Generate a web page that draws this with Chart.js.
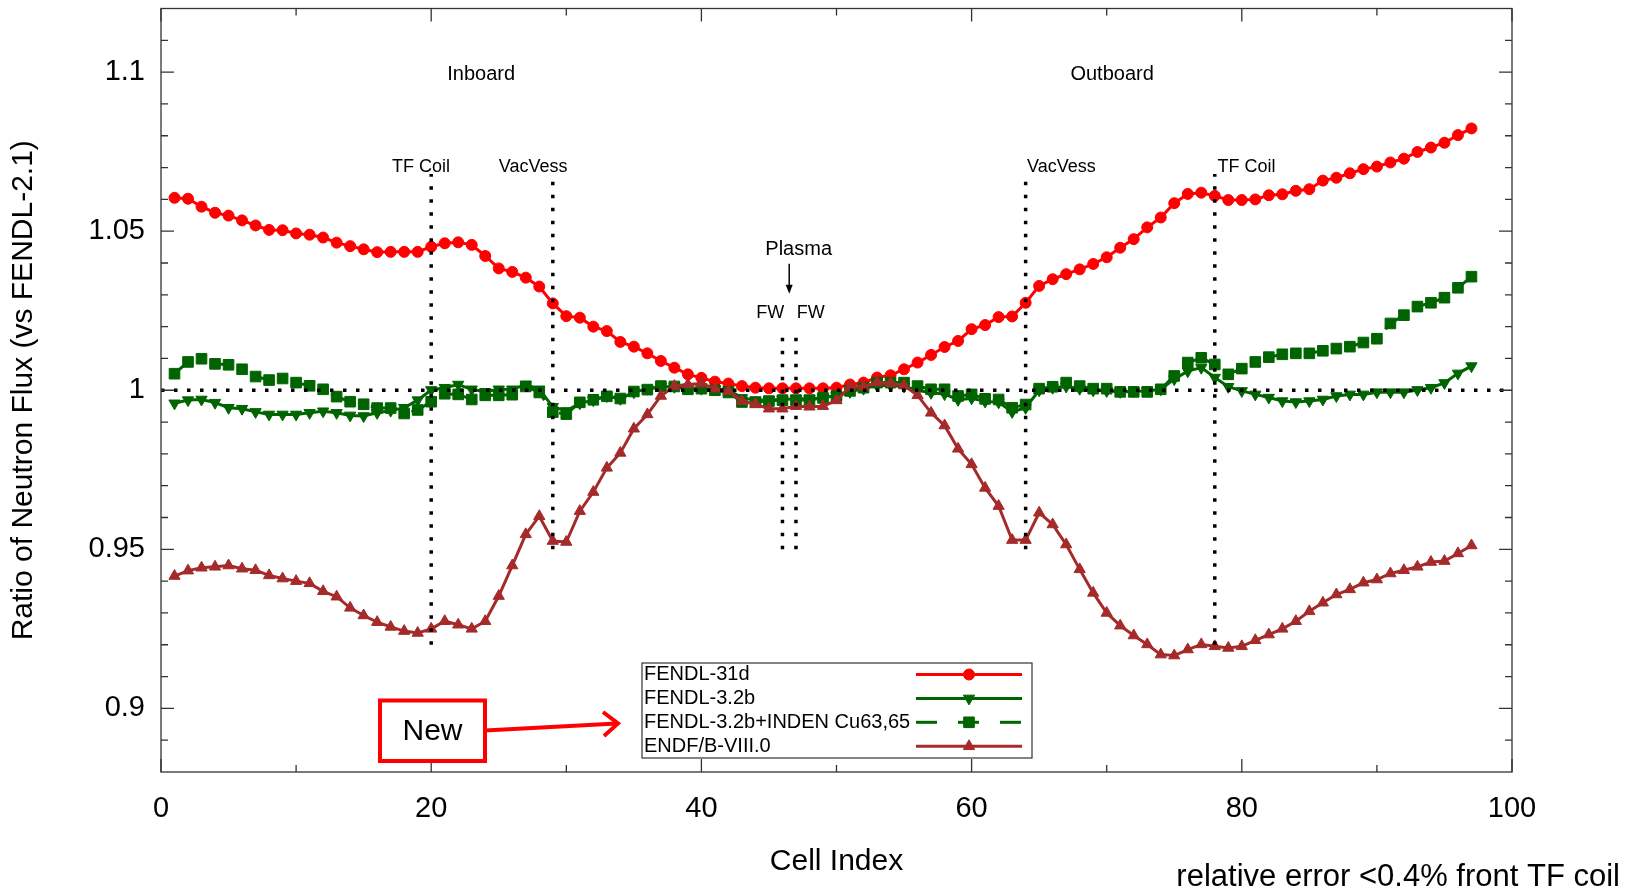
<!DOCTYPE html>
<html>
<head>
<meta charset="utf-8">
<script src="https://cdn.jsdelivr.net/npm/chart.js@4.4.0/dist/chart.umd.min.js"></script>
<style>
  html, body { margin: 0; padding: 0; background: #fff; }
  #wrap { width: 1632px; height: 892px; }
</style>
</head>
<body>
<div id="wrap"><canvas id="fluxChart" width="1632" height="892"></canvas></div>
<script>
// cell index on the x axis (1..97)
const cellIndex = Array.from({ length: 97 }, (_, i) => i + 1);

// ratio of neutron flux vs FENDL-2.1
const fendl31d = [
  1.0605, 1.0602, 1.0577, 1.0558, 1.0549, 1.0534, 1.0518, 1.0504, 1.0503, 1.0493,
  1.0489, 1.0480, 1.0464, 1.0453, 1.0443, 1.0434, 1.0435, 1.0435, 1.0435, 1.0451,
  1.0462, 1.0465, 1.0457, 1.0422, 1.0383, 1.0372, 1.0354, 1.0326, 1.0273, 1.0233,
  1.0228, 1.0200, 1.0186, 1.0152, 1.0137, 1.0116, 1.0092, 1.0071, 1.0050, 1.0039,
  1.0027, 1.0021, 1.0013, 1.0008, 1.0006, 1.0006, 1.0006, 1.0006, 1.0006, 1.0008,
  1.0018, 1.0024, 1.0040, 1.0047, 1.0066, 1.0087, 1.0111, 1.0136, 1.0155, 1.0192,
  1.0205, 1.0230, 1.0232, 1.0275, 1.0328, 1.0349, 1.0365, 1.0380, 1.0397, 1.0418,
  1.0448, 1.0475, 1.0512, 1.0543, 1.0588, 1.0617, 1.0621, 1.0611, 1.0598, 1.0598,
  1.0600, 1.0613, 1.0616, 1.0627, 1.0632, 1.0659, 1.0668, 1.0682, 1.0695, 1.0703,
  1.0716, 1.0728, 1.0749, 1.0763, 1.0778, 1.0802, 1.0823
];
const fendl32b = [
  0.9959, 0.9969, 0.9971, 0.9961, 0.9945, 0.9942, 0.9932, 0.9924, 0.9924, 0.9924,
  0.9929, 0.9934, 0.9929, 0.9921, 0.9919, 0.9929, 0.9936, 0.9945, 0.9969, 1.0001,
  1.0008, 1.0018, 1.0003, 0.9995, 1.0003, 1.0003, 1.0018, 1.0003, 0.9948, 0.9935,
  0.9959, 0.9969, 0.9982, 0.9973, 0.9994, 1.0005, 1.0011, 1.0011, 1.0008, 1.0005,
  1.0003, 1.0001, 0.9976, 0.9969, 0.9969, 0.9971, 0.9973, 0.9973, 0.9976, 0.9984,
  0.9995, 1.0005, 1.0015, 1.0015, 1.0012, 1.0000, 0.9992, 0.9988, 0.9970, 0.9975,
  0.9965, 0.9962, 0.9932, 0.9945, 1.0000, 1.0008, 1.0012, 1.0005, 1.0000, 0.9998,
  0.9995, 0.9997, 0.9998, 1.0003, 1.0035, 1.0060, 1.0071, 1.0040, 1.0011, 0.9998,
  0.9987, 0.9977, 0.9966, 0.9963, 0.9966, 0.9971, 0.9982, 0.9987, 0.9987, 0.9994,
  0.9994, 0.9994, 1.0001, 1.0008, 1.0023, 1.0053, 1.0076
];
const fendl32bInden = [
  1.0052, 1.0089, 1.0099, 1.0083, 1.0080, 1.0066, 1.0043, 1.0032, 1.0037, 1.0024,
  1.0014, 1.0003, 0.9980, 0.9964, 0.9956, 0.9944, 0.9944, 0.9927, 0.9938, 0.9964,
  0.9989, 0.9987, 0.9971, 0.9984, 0.9984, 0.9986, 1.0012, 0.9993, 0.9931, 0.9925,
  0.9962, 0.9970, 0.9981, 0.9974, 0.9996, 1.0002, 1.0013, 1.0012, 1.0003, 1.0005,
  1.0000, 0.9993, 0.9963, 0.9962, 0.9966, 0.9969, 0.9969, 0.9969, 0.9976, 0.9982,
  0.9998, 1.0008, 1.0024, 1.0024, 1.0024, 1.0013, 1.0003, 1.0003, 0.9982, 0.9987,
  0.9973, 0.9971, 0.9945, 0.9955, 1.0005, 1.0011, 1.0024, 1.0013, 1.0005, 1.0005,
  0.9995, 0.9995, 0.9995, 1.0003, 1.0045, 1.0087, 1.0102, 1.0081, 1.0050, 1.0068,
  1.0089, 1.0104, 1.0113, 1.0116, 1.0116, 1.0124, 1.0131, 1.0137, 1.0150, 1.0162,
  1.0210, 1.0236, 1.0263, 1.0275, 1.0291, 1.0322, 1.0357
];
const endfb80 = [
  0.9416, 0.9433, 0.9442, 0.9445, 0.9449, 0.9439, 0.9434, 0.9418, 0.9408, 0.9400,
  0.9393, 0.9368, 0.9351, 0.9316, 0.9292, 0.9271, 0.9256, 0.9243, 0.9237, 0.9250,
  0.9274, 0.9263, 0.9250, 0.9274, 0.9353, 0.9449, 0.9547, 0.9604, 0.9526, 0.9523,
  0.9620, 0.9680, 0.9756, 0.9803, 0.9879, 0.9924, 0.9982, 1.0013, 1.0018, 1.0021,
  1.0005, 0.9997, 0.9966, 0.9956, 0.9942, 0.9942, 0.9950, 0.9948, 0.9950, 0.9968,
  1.0011, 1.0011, 1.0024, 1.0022, 1.0015, 0.9984, 0.9929, 0.9889, 0.9816, 0.9767,
  0.9693, 0.9636, 0.9529, 0.9529, 0.9615, 0.9578, 0.9515, 0.9437, 0.9363, 0.9300,
  0.9260, 0.9229, 0.9201, 0.9169, 0.9166, 0.9185, 0.9201, 0.9195, 0.9190, 0.9195,
  0.9214, 0.9232, 0.9250, 0.9274, 0.9305, 0.9332, 0.9358, 0.9374, 0.9395, 0.9405,
  0.9424, 0.9434, 0.9445, 0.9460, 0.9463, 0.9487, 0.9512
];

// axes
const xTicks = [0, 20, 40, 60, 80, 100];
const xMinorTicks = [10, 30, 50, 70, 90];
const yTicks = [0.9, 0.95, 1, 1.05, 1.1];

// component boundaries (dotted vertical lines)
const boundaryCells = [20, 29, 64, 78];
const boundaryBottom = [0.920, 0.950, 0.950, 0.920];
const boundaryTop = 1.068;
const firstWallCells = [46, 47];
const firstWallRange = [0.950, 1.0176];

const FONT = "'Liberation Sans', Arial, sans-serif";
const RED = '#ff0000', GREEN = '#006400', BROWN = '#a52a2a';

// text annotations in data coordinates
const notes = [
  { text: 'Inboard', x: 23.7, y: 1.0993, size: 20, align: 'center' },
  { text: 'Outboard', x: 70.4, y: 1.0993, size: 20, align: 'center' },
  { text: 'TF Coil', x: 17.1, y: 1.0703, size: 18, align: 'left' },
  { text: 'VacVess', x: 25.0, y: 1.0703, size: 18, align: 'left' },
  { text: 'VacVess', x: 64.1, y: 1.0703, size: 18, align: 'left' },
  { text: 'TF Coil', x: 78.2, y: 1.0703, size: 18, align: 'left' },
  { text: 'Plasma', x: 47.2, y: 1.0443, size: 20, align: 'center' },
  { text: 'FW', x: 45.1, y: 1.0244, size: 18, align: 'center' },
  { text: 'FW', x: 48.1, y: 1.0244, size: 18, align: 'center' }
];

const legendItems = [
  { label: 'FENDL-31d', color: RED, style: 'circle', radius: 5.5, rotation: 0, dash: [] },
  { label: 'FENDL-3.2b', color: GREEN, style: 'triangle', radius: 6.5, rotation: 180, dash: [] },
  { label: 'FENDL-3.2b+INDEN Cu63,65', color: GREEN, style: 'rect', radius: 7.5, rotation: 0, dash: [21, 21] },
  { label: 'ENDF/B-VIII.0', color: BROWN, style: 'triangle', radius: 6.5, rotation: 0, dash: [] }
];

function seriesDataset(item, values, order) {
  return {
    label: item.label,
    data: values,
    borderColor: item.color,
    backgroundColor: item.color,
    borderWidth: 3,
    borderDash: item.dash,
    pointStyle: item.style,
    pointRadius: item.radius,
    pointRotation: item.rotation,
    pointBorderWidth: 1,
    tension: 0,
    order: order
  };
}

function dottedLine(points) {
  return {
    data: points,
    borderColor: '#000',
    borderWidth: 3.5,
    borderDash: [3.5, 9.5],
    borderCapStyle: 'butt',
    pointRadius: 0,
    tension: 0,
    order: 0
  };
}

const guideSets = [dottedLine([{ x: 0, y: 1 }, { x: 100, y: 1 }])];
boundaryCells.forEach((c, i) => guideSets.push(dottedLine([{ x: c, y: boundaryBottom[i] }, { x: c, y: boundaryTop }])));
firstWallCells.forEach(c => guideSets.push(dottedLine([{ x: c, y: firstWallRange[0] }, { x: c, y: firstWallRange[1] }])));

// border, inward ticks on all four sides
const framePlugin = {
  id: 'frame',
  afterDatasetsDraw(chart) {
    const { ctx, chartArea: a, scales: { x, y } } = chart;
    ctx.save();
    ctx.strokeStyle = '#333';
    ctx.lineWidth = 1.3;
    ctx.beginPath();
    const seg = (x1, y1, x2, y2) => { ctx.moveTo(x1, y1); ctx.lineTo(x2, y2); };
    xTicks.forEach(v => { const p = x.getPixelForValue(v); seg(p, a.bottom, p, a.bottom - 13); seg(p, a.top, p, a.top + 13); });
    xMinorTicks.forEach(v => { const p = x.getPixelForValue(v); seg(p, a.bottom, p, a.bottom - 7); seg(p, a.top, p, a.top + 7); });
    for (let k = 89; k <= 111; k++) {
      const v = k / 100;
      const p = y.getPixelForValue(v);
      const len = (k % 5 === 0) ? 13 : 7;
      seg(a.left, p, a.left + len, p);
      seg(a.right, p, a.right - len, p);
    }
    ctx.stroke();
    ctx.strokeRect(a.left, a.top, a.right - a.left, a.bottom - a.top);
    ctx.restore();
  },
  afterDraw(chart) {
    const { ctx, scales: { x, y } } = chart;
    const helpers = Chart.helpers;
    ctx.save();
    ctx.fillStyle = '#000';
    ctx.textBaseline = 'middle';

    notes.forEach(n => {
      ctx.font = n.size + 'px ' + FONT;
      ctx.textAlign = n.align;
      ctx.fillText(n.text, x.getPixelForValue(n.x), y.getPixelForValue(n.y));
    });

    // plasma arrow
    const ax = x.getPixelForValue(46.5);
    const ay1 = y.getPixelForValue(1.0398), ay2 = y.getPixelForValue(1.0303);
    ctx.strokeStyle = '#000';
    ctx.lineWidth = 1.5;
    ctx.beginPath(); ctx.moveTo(ax, ay1); ctx.lineTo(ax, ay2 - 6); ctx.stroke();
    ctx.beginPath(); ctx.moveTo(ax - 3.5, ay2 - 9); ctx.lineTo(ax, ay2); ctx.lineTo(ax + 3.5, ay2 - 9); ctx.closePath(); ctx.fill();

    // legend box
    ctx.lineWidth = 1.2;
    ctx.strokeStyle = '#333';
    ctx.fillStyle = '#fff';
    ctx.fillRect(642, 663, 390, 95);
    ctx.strokeRect(642, 663, 390, 95);
    const rowY = [674.5, 698.4, 722.3, 746.3];
    legendItems.forEach((it, i) => {
      ctx.font = '20px ' + FONT;
      ctx.textAlign = 'left';
      ctx.fillStyle = '#000';
      ctx.fillText(it.label, 644, rowY[i]);
      ctx.strokeStyle = it.color;
      ctx.fillStyle = it.color;
      ctx.lineWidth = 3;
      ctx.setLineDash(it.dash);
      ctx.beginPath(); ctx.moveTo(916, rowY[i]); ctx.lineTo(1022, rowY[i]); ctx.stroke();
      ctx.setLineDash([]);
      ctx.lineWidth = 1;
      helpers.drawPoint(ctx, { pointStyle: it.style, radius: it.radius, rotation: it.rotation, borderWidth: 1 }, 969, rowY[i]);
    });

    // "New" callout
    ctx.strokeStyle = RED;
    ctx.lineWidth = 4;
    ctx.strokeRect(380, 700.5, 105, 60.5);
    ctx.fillStyle = '#000';
    ctx.font = '30px ' + FONT;
    ctx.textAlign = 'center';
    ctx.fillText('New', 432.5, 732);
    ctx.beginPath(); ctx.moveTo(485, 730.6); ctx.lineTo(617, 723.5); ctx.stroke();
    ctx.beginPath(); ctx.moveTo(603, 712); ctx.lineTo(618, 723.4); ctx.lineTo(604, 736); ctx.stroke();

    // note under the plot
    ctx.font = '31px ' + FONT;
    ctx.textAlign = 'right';
    ctx.fillStyle = '#000';
    ctx.fillText('relative error <0.4% front TF coil', 1620, 877);
    ctx.restore();
  }
};

new Chart(document.getElementById('fluxChart'), {
  type: 'line',
  data: {
    labels: cellIndex,
    datasets: [
      seriesDataset(legendItems[0], fendl31d, 4),
      seriesDataset(legendItems[1], fendl32b, 3),
      seriesDataset(legendItems[2], fendl32bInden, 2),
      seriesDataset(legendItems[3], endfb80, 1),
      ...guideSets
    ]
  },
  options: {
    responsive: false,
    animation: false,
    events: [],
    layout: { padding: { top: 8, right: 120, left: 0, bottom: 0 } },
    plugins: { legend: { display: false }, tooltip: { enabled: false } },
    scales: {
      x: {
        type: 'linear',
        min: 0,
        max: 100,
        grid: { display: false, drawTicks: false },
        border: { display: false },
        afterBuildTicks: axis => { axis.ticks = xTicks.map(v => ({ value: v })); },
        afterFit: axis => { axis.height = 120; axis.paddingLeft = 0; axis.paddingRight = 0; },
        ticks: { autoSkip: false, maxRotation: 0, padding: 20, color: '#000', font: { family: FONT, size: 29 } },
        title: { display: true, text: 'Cell Index', color: '#000', font: { family: FONT, size: 30 }, padding: { top: 0, bottom: 12 } }
      },
      y: {
        min: 0.88,
        max: 1.12,
        grid: { display: false, drawTicks: false },
        border: { display: false },
        afterBuildTicks: axis => { axis.ticks = yTicks.map(v => ({ value: v })); },
        afterFit: axis => { axis.width = 161; axis.paddingTop = 0; axis.paddingBottom = 0; },
        ticks: {
          padding: 16, color: '#000', font: { family: FONT, size: 29 },
          callback: v => String(Number(v.toFixed(2)))
        },
        title: { display: true, text: 'Ratio of Neutron Flux (vs FENDL-2.1)', color: '#000', font: { family: FONT, size: 30 }, padding: { top: 6, bottom: 0 } }
      }
    }
  },
  plugins: [framePlugin]
});
</script>
</body>
</html>
